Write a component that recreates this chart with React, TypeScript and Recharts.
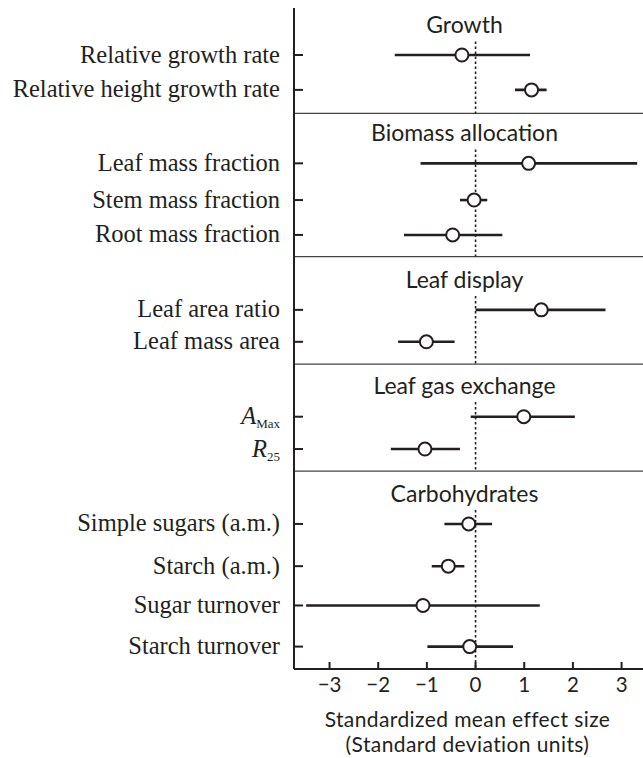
import { ScatterChart, Scatter, XAxis, YAxis, ErrorBar, ReferenceLine, Label } from 'recharts';

const ink = '#231f20';
const serif = '"Liberation Serif", "Times New Roman", serif';
const sans = 'Lato, "Open Sans", sans-serif';

// group headings and the horizontal rules between groups (row units, top = 0)
const groupNames = ['Growth', 'Biomass allocation', 'Leaf display', 'Leaf gas exchange', 'Carbohydrates'];
const groupPos = [0.49, 3.43, 7.42, 10.31, 13.25];
const separatorPos = [2.87, 6.77, 9.7, 12.61];

const traitNames = [
  'Relative growth rate',
  'Relative height growth rate',
  'Leaf mass fraction',
  'Stem mass fraction',
  'Root mass fraction',
  'Leaf area ratio',
  'Leaf mass area',
  'A',
  'R',
  'Simple sugars (a.m.)',
  'Starch (a.m.)',
  'Sugar turnover',
  'Starch turnover',
];
const traitSubs = ['', '', '', '', '', '', '', 'Max', '25', '', '', '', ''];
const traitPos = [1.28, 2.23, 4.23, 5.23, 6.18, 8.22, 9.09, 11.13, 12.01, 14.05, 15.2, 16.27, 17.39];

// standardized mean effect size with 95% CI
const means = [-0.28, 1.15, 1.09, -0.03, -0.47, 1.35, -1.01, 0.99, -1.04, -0.14, -0.56, -1.08, -0.12];
const lows = [-1.66, 0.81, -1.13, -0.32, -1.47, 0.0, -1.59, -0.1, -1.74, -0.64, -0.9, -3.48, -0.99];
const highs = [1.12, 1.46, 3.32, 0.24, 0.55, 2.67, -0.43, 2.04, -0.32, 0.34, -0.23, 1.32, 0.77];

const xTicks = [-3, -2, -1, 0, 1, 2, 3];
const yDomain = [0, 18];

const rows = traitNames.map((name, i) => ({
  name,
  sub: traitSubs[i],
  pos: traitPos[i],
  mean: means[i],
  err: [means[i] - lows[i], highs[i] - means[i]],
}));

// dotted zero line, broken under each heading; one short series per group
const groupEnds = [...separatorPos, yDomain[1]];
const zeroSegments = groupPos.map((p, i) => [
  { mean: 0, pos: p + 0.42 },
  { mean: 0, pos: groupEnds[i] },
]);

function TraitTick(props: any) {
  const { x, y, payload } = props;
  const row = rows.find((r) => r.pos === payload.value);
  if (!row) return null;
  return (
    <g>
      <line x1={x} x2={x + 9} y1={y} y2={y} stroke={ink} strokeWidth={2} />
      <text x={x - 14} y={y + 7.5} textAnchor="end" fontFamily={serif} fontSize={24.5} fill={ink}>
        {row.sub ? (
          <>
            <tspan fontStyle="italic">{row.name}</tspan>
            <tspan fontSize={13} dy={4}>{row.sub}</tspan>
          </>
        ) : (
          row.name
        )}
      </text>
    </g>
  );
}

function ValueTick(props: any) {
  const { x, y, payload } = props;
  const v = payload.value;
  return (
    <g>
      <line x1={x} x2={x} y1={y} y2={y - 7} stroke={ink} strokeWidth={2} />
      <text x={x} y={y + 23} textAnchor="middle" fontFamily={sans} fontSize={20.5} fill={ink}>
        {v < 0 ? `\u2212${-v}` : v}
      </text>
    </g>
  );
}

const groupTitle = (text: string) => (props: any) => {
  const vb = props.viewBox;
  const cx = vb.x + vb.width / 2 - 4;
  return (
    <text x={cx} y={vb.y + 7.5} textAnchor="middle" fontFamily={sans} fontSize={23} fill={ink}>
      {text}
    </text>
  );
};

function AxisTitle(props: any) {
  const vb = props.viewBox;
  const cx = vb.x + vb.width / 2 - 1;
  const common = { x: cx, textAnchor: 'middle' as const, fontFamily: sans, fontSize: 21, letterSpacing: 0.4, fill: ink };
  return (
    <g>
      <text y={vb.y + 58} {...common}>Standardized mean effect size</text>
      <text y={vb.y + 83} {...common}>(Standard deviation units)</text>
    </g>
  );
}

const noShape = () => <g />;

const Dot = (props: any) => (
  <circle cx={props.cx} cy={props.cy} r={6.5} fill="#fff" stroke={ink} strokeWidth={2} />
);

export default function App() {
  return (
    <div style={{ position: 'absolute', left: 0, top: 0, background: '#fff' }}>
      <ScatterChart width={643} height={758} margin={{ top: 8, right: 0, bottom: 0, left: 0 }}>
        <XAxis
          type="number"
          dataKey="mean"
          domain={[-3.73, 3.44]}
          allowDataOverflow
          ticks={xTicks}
          interval={0}
          height={89}
          tickSize={0}
          tickMargin={0}
          tickLine={false}
          tick={<ValueTick />}
          axisLine={{ stroke: ink, strokeWidth: 2 }}
        >
          <Label content={<AxisTitle />} />
        </XAxis>
        <YAxis
          type="number"
          dataKey="pos"
          domain={yDomain}
          reversed
          allowDataOverflow
          ticks={traitPos}
          interval={0}
          width={294}
          tickSize={0}
          tickMargin={0}
          tickLine={false}
          tick={<TraitTick />}
          axisLine={{ stroke: ink, strokeWidth: 2 }}
        />
        {groupNames.map((g, i) => (
          <ReferenceLine key={g} y={groupPos[i]} stroke="none" label={groupTitle(g)} />
        ))}
        {separatorPos.map((p) => (
          <ReferenceLine key={p} y={p} stroke="#444" strokeWidth={1.3} />
        ))}
        {zeroSegments.map((seg, i) => (
          <Scatter
            key={`zero-${i}`}
            data={seg}
            shape={noShape}
            line={{ stroke: ink, strokeWidth: 1.6, strokeDasharray: '2.5 2.5' }}
            isAnimationActive={false}
          />
        ))}
        <Scatter data={rows} shape={noShape} isAnimationActive={false}>
          <ErrorBar dataKey="err" direction="x" width={0} stroke={ink} strokeWidth={2.6} />
        </Scatter>
        <Scatter data={rows} shape={Dot} isAnimationActive={false} />
      </ScatterChart>
    </div>
  );
}
